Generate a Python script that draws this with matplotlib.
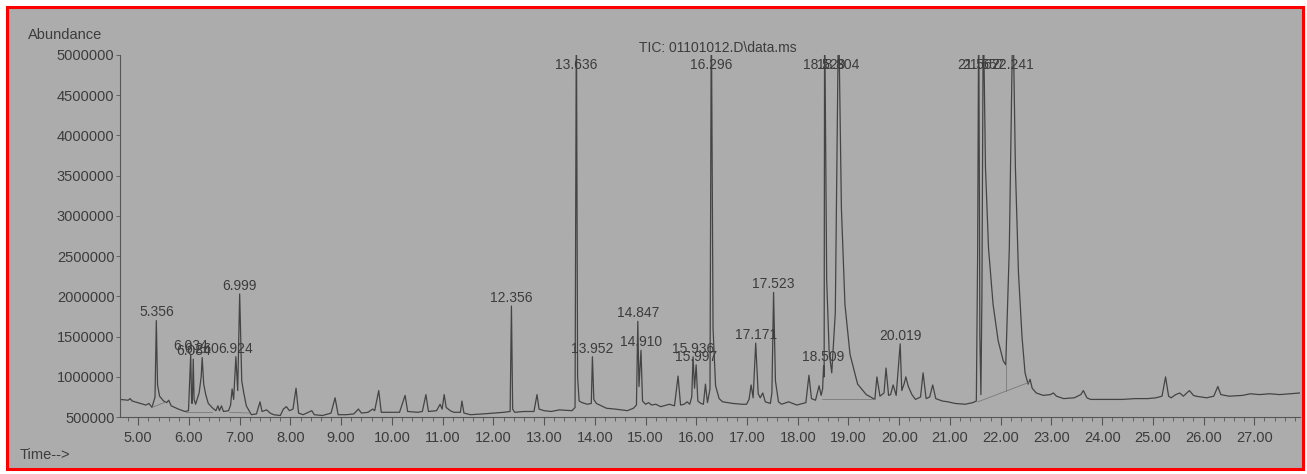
# %% Imports
import matplotlib
matplotlib.use("Agg")
import matplotlib.pyplot as plt
from matplotlib.patches import Rectangle
from matplotlib.ticker import MultipleLocator, FuncFormatter

plt.rcParams['font.family'] = ['Liberation Sans', 'DejaVu Sans']

# %% Data (retention time in min, abundance)
rt = [
    4.64, 4.80, 4.84, 4.88, 5.04, 5.15, 5.21, 5.27, 5.33, 5.356, 5.38, 5.42, 5.50, 5.56, 5.60, 5.65,
    5.79, 5.92, 5.99, 6.01, 6.034, 6.05, 6.06, 6.07, 6.084, 6.10, 6.13, 6.20, 6.24, 6.260, 6.29, 6.33,
    6.38, 6.47, 6.53, 6.57, 6.60, 6.64, 6.68, 6.78, 6.82, 6.85, 6.88, 6.924, 6.96, 6.999, 7.04, 7.08,
    7.13, 7.23, 7.33, 7.40, 7.44, 7.53, 7.60, 7.67, 7.80, 7.86, 7.92, 7.98, 8.05, 8.11, 8.16, 8.25,
    8.42, 8.47, 8.63, 8.80, 8.88, 8.94, 9.10, 9.25, 9.34, 9.40, 9.53, 9.62, 9.66, 9.74, 9.79, 9.95,
    10.15, 10.26, 10.31, 10.51, 10.60, 10.67, 10.72, 10.88, 10.95, 10.99, 11.03, 11.07, 11.15, 11.22,
    11.35, 11.38, 11.42, 11.55, 11.80, 12.00, 12.21, 12.33, 12.356, 12.38, 12.42, 12.60, 12.80, 12.86,
    12.90, 13.00, 13.14, 13.30, 13.55, 13.61, 13.636, 13.66, 13.69, 13.75, 13.85, 13.93, 13.952, 13.98,
    14.03, 14.23, 14.40, 14.64, 14.76, 14.82, 14.847, 14.87, 14.910, 14.94, 15.00, 15.06, 15.12, 15.20,
    15.30, 15.47, 15.57, 15.64, 15.69, 15.76, 15.82, 15.87, 15.91, 15.936, 15.965, 15.997, 16.03, 16.09,
    16.14, 16.18, 16.22, 16.27, 16.296, 16.33, 16.38, 16.45, 16.52, 16.72, 16.90, 16.99, 17.04, 17.08,
    17.12, 17.171, 17.22, 17.26, 17.31, 17.36, 17.46, 17.49, 17.523, 17.56, 17.62, 17.68, 17.82, 17.98,
    18.10, 18.16, 18.22, 18.27, 18.35, 18.42, 18.46, 18.49, 18.509, 18.52, 18.529, 18.57, 18.62, 18.67,
    18.74, 18.804, 18.86, 18.93, 19.03, 19.18, 19.35, 19.52, 19.56, 19.62, 19.70, 19.74, 19.79, 19.83,
    19.88, 19.94, 20.019, 20.05, 20.10, 20.13, 20.18, 20.25, 20.32, 20.42, 20.47, 20.53, 20.60, 20.66,
    20.72, 20.85, 20.96, 21.10, 21.30, 21.45, 21.52, 21.545, 21.567, 21.59, 21.61, 21.63, 21.657, 21.70, 21.76,
    21.85, 21.95, 22.05, 22.10, 22.17, 22.241, 22.29, 22.35, 22.42, 22.48, 22.54, 22.58, 22.62, 22.70,
    22.84, 22.98, 23.04, 23.10, 23.24, 23.45, 23.58, 23.63, 23.70, 23.77, 24.00, 24.17, 24.40, 24.65,
    24.90, 25.06, 25.18, 25.25, 25.31, 25.36, 25.45, 25.53, 25.60, 25.72, 25.80, 25.85, 26.06, 26.20,
    26.28, 26.34, 26.50, 26.77, 26.92, 27.10, 27.30, 27.50, 27.70, 27.90,
]
abundance = [
    720000, 710000, 730000, 700000, 670000, 650000, 670000, 620000, 750000, 1700000, 900000, 760000, 700000, 680000, 710000, 640000,
    600000, 570000, 580000, 900000, 1280000, 750000, 670000, 800000, 1220000, 720000, 660000, 800000, 1000000, 1240000, 910000, 780000,
    670000, 610000, 580000, 640000, 580000, 640000, 570000, 580000, 650000, 850000, 720000, 1250000, 830000, 2030000, 950000, 800000,
    640000, 530000, 540000, 690000, 570000, 590000, 550000, 530000, 520000, 600000, 630000, 580000, 600000, 860000, 550000, 530000,
    580000, 530000, 520000, 550000, 740000, 530000, 530000, 540000, 600000, 550000, 560000, 600000, 580000, 830000, 560000, 560000,
    560000, 770000, 570000, 560000, 570000, 780000, 570000, 580000, 660000, 600000, 780000, 620000, 580000, 560000,
    560000, 700000, 550000, 530000, 540000, 550000, 560000, 570000, 1880000, 600000, 560000, 570000, 570000, 780000,
    600000, 580000, 570000, 590000, 580000, 620000, 5600000, 1000000, 700000, 680000, 660000, 670000, 1250000, 720000,
    670000, 610000, 600000, 580000, 610000, 650000, 1690000, 880000, 1330000, 700000, 660000, 680000, 650000, 660000,
    630000, 660000, 640000, 1010000, 650000, 660000, 690000, 660000, 750000, 1250000, 860000, 1150000, 700000, 670000,
    660000, 910000, 680000, 850000, 5600000, 1600000, 890000, 730000, 690000, 670000, 660000, 660000, 720000, 900000,
    740000, 1420000, 790000, 740000, 800000, 690000, 670000, 800000, 2050000, 950000, 690000, 660000, 690000, 650000,
    670000, 680000, 1020000, 730000, 710000, 890000, 770000, 850000, 1140000, 1000000, 5600000, 2200000, 1300000, 1050000,
    1800000, 5600000, 3100000, 1900000, 1280000, 910000, 780000, 720000, 1000000, 760000, 800000, 1110000, 770000, 780000,
    900000, 770000, 1410000, 830000, 920000, 1000000, 880000, 780000, 720000, 750000, 1050000, 730000, 750000, 900000,
    730000, 700000, 690000, 670000, 660000, 680000, 700000, 2500000, 5600000, 1500000, 780000, 2000000, 5600000, 3600000, 2600000,
    1900000, 1450000, 1200000, 1150000, 2600000, 5600000, 3600000, 2300000, 1500000, 1050000, 910000, 970000, 860000, 800000,
    770000, 780000, 800000, 760000, 730000, 740000, 780000, 830000, 740000, 720000, 720000, 720000, 720000, 730000,
    730000, 740000, 760000, 1000000, 760000, 740000, 780000, 800000, 760000, 830000, 770000, 760000, 740000, 760000,
    880000, 780000, 760000, 770000, 790000, 780000, 790000, 780000, 790000, 800000,
]

# labelled peaks: retention time text; peaks that run off the top get their label at the top
peak_labels = ['5.356', '6.034', '6.084', '6.260', '6.924', '6.999', '12.356', '13.636', '13.952',
               '14.847', '14.910', '15.936', '15.997', '16.296', '17.171', '17.523', '18.509',
               '18.529', '18.804', '20.019', '21.567', '21.657', '22.241']

# integration baselines drawn by the data system (start rt, start abundance, end rt, end abundance)
base_start_rt = [5.27, 5.95, 6.80, 18.47, 21.55, 22.10]
base_start_ab = [620000, 560000, 560000, 720000, 690000, 1150000]
base_end_rt = [5.55, 6.45, 7.20, 19.50, 22.55, 22.10]
base_end_ab = [690000, 560000, 550000, 720000, 930000, 830000]

y_ticks = [500000, 1000000, 1500000, 2000000, 2500000, 3000000, 3500000, 4000000, 4500000, 5000000]

# %% Figure
W, H = 1307, 474
paper = '#acacac'
ink = '#3c3c3c'
fig = plt.figure(figsize=(W / 100, H / 100), dpi=100)
fig.patch.set_facecolor('white')
fig.patches.append(Rectangle((7 / W, 5 / H), 1296 / W, 462 / H, transform=fig.transFigure,
                             facecolor=paper, edgecolor='#ff0000', linewidth=2.2, zorder=-10))

ax = fig.add_axes([120 / W, 0.12, 1180 / W, 0.764])
ax.set_facecolor('none')
y_top = 5000000
ax.set_xlim(4.64, 27.9)
ax.set_ylim(500000, y_top)

ax.plot(rt, abundance, color='#444444', linewidth=0.9)
for t0, a0, t1, a1 in zip(base_start_rt, base_start_ab, base_end_rt, base_end_ab):
    ax.plot([t0, t1], [a0, a1], color='#7a7a7a', linewidth=0.6)

# peak labels
for lab in peak_labels:
    t = float(lab)
    idx = rt.index(t)
    a = abundance[idx]
    if a >= y_top:
        ax.text(t, 4870000, lab, ha='center', va='center', fontsize=10, color=ink)
    else:
        ax.annotate(lab, (t, a), xytext=(0, 3), textcoords='offset points',
                    ha='center', va='baseline', fontsize=10, color=ink)

# axes styling
for s in ['top', 'right']:
    ax.spines[s].set_visible(False)
for s in ['left', 'bottom']:
    ax.spines[s].set_color('#555555')
    ax.spines[s].set_linewidth(0.8)

ax.xaxis.set_major_locator(MultipleLocator(1.0))
ax.xaxis.set_minor_locator(MultipleLocator(0.2))
ax.xaxis.set_major_formatter(FuncFormatter(lambda v, p: f"{v:.2f}"))
ax.set_yticks(y_ticks)
ax.yaxis.set_major_formatter(FuncFormatter(lambda v, p: f"{int(v)}"))
ax.tick_params(axis='x', which='major', length=6, width=0.8, color='#555555',
               labelsize=10.5, labelcolor=ink, pad=4)
ax.tick_params(axis='x', which='minor', length=3, width=0.6, color='#555555')
ax.tick_params(axis='y', length=3, width=0.6, color='#555555', labelsize=10.5, labelcolor=ink, pad=1)

fig.text(718 / W, 1 - 48 / H, r'TIC: 01101012.D\data.ms', ha='center', va='center', fontsize=10, color=ink)
fig.text(28 / W, 1 - 35 / H, 'Abundance', ha='left', va='center', fontsize=10.5, color=ink)
fig.text(20 / W, 1 - 455 / H, 'Time-->', ha='left', va='center', fontsize=10.5, color=ink)

fig.savefig('out.png', dpi=100, facecolor=fig.get_facecolor())
